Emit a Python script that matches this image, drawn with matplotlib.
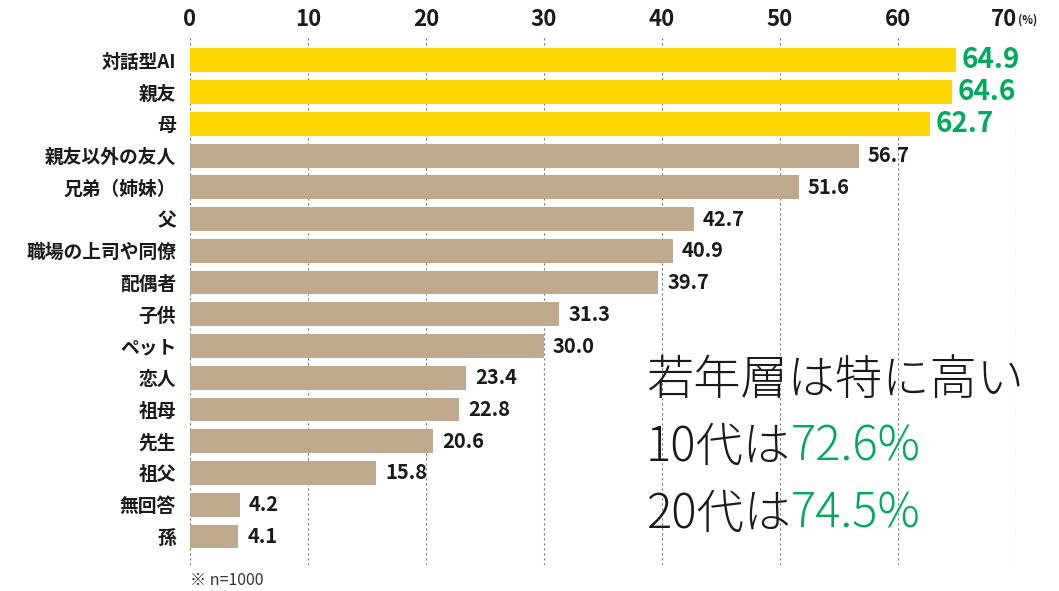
import matplotlib
matplotlib.use("Agg")
import matplotlib.pyplot as plt

plt.rcParams['font.family'] = ['Noto Sans CJK JP', 'DejaVu Sans']

categories = ["対話型AI", "親友", "母", "親友以外の友人", "兄弟（姉妹）", "父", "職場の上司や同僚",
              "配偶者", "子供", "ペット", "恋人", "祖母", "先生", "祖父", "無回答", "孫"]
values = [64.9, 64.6, 62.7, 56.7, 51.6, 42.7, 40.9, 39.7, 31.3, 30.0, 23.4, 22.8, 20.6, 15.8, 4.2, 4.1]
highlight_n = 3
xticks = [0, 10, 20, 30, 40, 50, 60, 70]

YELLOW = "#FFD700"
TAN = "#BFA98D"
GREEN = "#00A95C"
DARK = "#1A1A1A"

fig = plt.figure(figsize=(10.59, 5.91), dpi=100)
ax = fig.add_axes([190/1059, 1-565/591, 826/1059, 530/591])

y = list(range(len(categories)))
colors = [YELLOW if i < highlight_n else TAN for i in y]
ax.barh(y, values, height=0.75, color=colors, zorder=2)

ax.set_xlim(0, 70)
ax.set_ylim(15.9, -0.8)
ax.set_xticks(xticks)
ax.xaxis.tick_top()
labels = [str(t) for t in xticks]
labels[-1] = ""
ax.set_xticklabels(labels, fontsize=16, fontweight='bold', color=DARK)
ax.tick_params(axis='x', length=0, pad=3)
ax.set_yticks(y)
ax.set_yticklabels(categories, fontsize=13.5, fontweight='bold', color=DARK)
ax.tick_params(axis='y', length=0, pad=10)
for s in ax.spines.values():
    s.set_visible(False)
ax.grid(axis='x', color='#777777', linestyle=(0, (2, 2.5)), linewidth=0.8, zorder=0)

for i, v in enumerate(values):
    if i < highlight_n:
        ax.text(v + 0.45, i, f"{v:.1f}", va='center', ha='left', fontsize=20,
                fontweight='bold', color=GREEN, clip_on=False)
    else:
        ax.text(v + 0.75, i, f"{v:.1f}", va='center', ha='left', fontsize=14.5,
                fontweight='bold', color=DARK)

fig.canvas.draw()
renderer = fig.canvas.get_renderer()
ref_lbl = ax.get_xticklabels()[0]
bb0 = ref_lbl.get_window_extent(renderer)
ycen = (bb0.y0 + bb0.y1) / 2 / fig.bbox.height
fig.text(1017/1059, ycen, "70", fontsize=16, fontweight='bold', color=DARK, va='center', ha='right')
fig.text(1018/1059, ycen - 1/591, "(%)", fontsize=8, fontweight='bold', color=DARK, va='center', ha='left')
fig.text(190/1059, 1-580/591, "※ n=1000", fontsize=11.5, color='#333333', va='center', ha='left')

# annotation
FS = 34
fig.text(646/1059, 1-380/591, "若年層は特に高い", fontsize=FS, fontweight='light', color=DARK, va='center', ha='left')
for yy, a, b in [(447, "10代は", "72.6%"), (514, "20代は", "74.5%")]:
    t1 = fig.text(646/1059, 1-yy/591, a, fontsize=FS, fontweight='light', color=DARK, va='center', ha='left')
    bb = t1.get_window_extent(renderer)
    fig.text(bb.x1/fig.bbox.width, 1-yy/591, b, fontsize=FS, fontweight='light', color=GREEN, va='center', ha='left')

fig.savefig("out.png", dpi=100)
